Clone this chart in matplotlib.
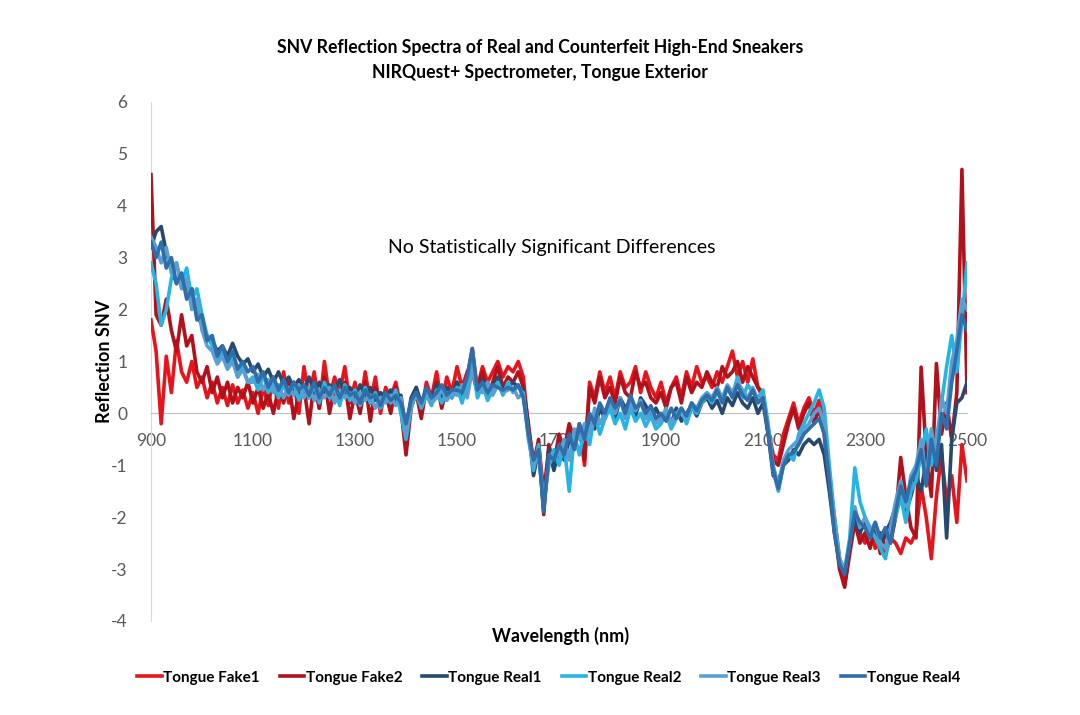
import numpy as np
import matplotlib.pyplot as plt

plt.rcParams["font.family"] = ["Lato", "DejaVu Sans"]
plt.rcParams["axes.unicode_minus"] = False

# wavelength grid, nm (10 nm steps)
wavelength = np.arange(900, 2501, 10)

fake1 = [
    1.8, 1.2, -0.2, 1.1, 0.4, 1.4, 0.8, 0.6, 1.0, 0.5,
    0.7, 0.3, 0.6, 0.2, 0.5, 0.15, 0.55, 0.2, 0.45, 0.1,
    0.4, 0.0, 0.5, 0.15, 0.7, 0.1, 0.8, 0.2, 0.6, 0.0,
    0.9, 0.3, 0.8, 0.1, 1.0, 0.3, 0.7, 0.4, 0.9, 0.2,
    0.6, 0.1, 0.8, 0.2, 0.7, 0.0, 0.5, 0.3, 0.6, 0.1,
    -0.6, 0.2, 0.5, 0.0, 0.6, 0.3, 0.8, 0.2, 0.7, 0.4,
    0.9, 0.5, 0.8, 1.0, 0.5, 0.9, 0.6, 0.8, 1.0, 0.7,
    0.9, 0.8, 1.0, 0.7, -0.3, -0.9, -0.6, -1.5, -0.7, -0.9,
    -0.5, -0.8, -0.3, -0.6, -0.2, -1.0, 0.6, 0.3, 0.8, 0.4,
    0.7, 0.3, 0.8, 0.5, 0.6, 0.9, 0.4, 0.8, 0.5, 0.3,
    0.6, 0.2, 0.5, 0.7, 0.3, 0.8, 0.5, 0.9, 0.6, 0.7,
    0.5, 0.8, 0.6, 0.9, 1.2, 0.7, 1.0, 0.6, 1.05, 0.5,
    0.3, -0.3, -0.8, -0.9, -0.4, -0.1, 0.2, -0.2, 0.1, 0.3,
    0.0, 0.25, -0.2, -1.2, -2.0, -2.8, -3.3, -2.6, -2.0, -2.3,
    -2.5, -2.2, -2.6, -2.3, -2.7, -2.4, -2.5, -2.7, -2.4, -2.5,
    -2.3, -1.4, -2.0, -2.8, -1.6, -0.8, -1.7, -1.2, -2.1, -0.6,
    -1.3,
]

fake2 = [
    4.6, 1.9, 1.7, 2.2, 1.6, 1.2, 1.9, 1.3, 1.5, 0.8,
    0.6, 0.9, 0.4, 0.7, 0.3, 0.6, 0.2, 0.5, 0.3, 0.6,
    0.2, 0.5, 0.1, 0.4, 0.0, 0.5, 0.2, 0.6, -0.1, 0.4,
    0.5, -0.2, 0.6, 0.1, 0.7, 0.0, 0.5, 0.2, 0.6, -0.1,
    0.4, 0.0, 0.6, -0.15, 0.5, 0.2, 0.4, 0.0, 0.5, 0.1,
    -0.8, 0.1, 0.4, -0.1, 0.5, 0.2, 0.6, 0.1, 0.5, 0.3,
    0.6, 0.3, 0.7, 1.25, 0.4, 0.8, 0.3, 0.6, 0.9, 0.5,
    0.7, 0.6, 0.8, 0.5, -0.2, -1.0, -0.5, -1.95, -0.6, -1.0,
    -0.4, -0.7, -0.2, -0.5, -0.3, -0.9, 0.5, 0.2, 0.7, 0.3,
    0.5, 0.2, 0.7, 0.4, 0.3, 0.8, 0.5, 0.6, 0.3, 0.2,
    0.4, 0.1, 0.5, 0.6, 0.2, 0.7, 0.4, 0.6, 0.5, 0.8,
    0.6, 0.5, 0.9, 0.7, 0.8, 1.0, 0.6, 0.9, 0.7, 0.5,
    0.4, -0.4, -0.9, -1.0, -0.6, -0.2, 0.1, -0.3, 0.0, 0.2,
    -0.2, 0.1, -0.4, -1.4, -2.2, -3.0, -3.35, -2.7, -2.1, -2.5,
    -2.3, -2.6, -2.2, -2.7, -2.3, -2.5, -2.0, -0.85, -1.6, -2.2,
    -2.4, 0.89, -0.8, -1.6, 0.96, -0.4, 0.2, -0.5, 0.4, 4.7,
    0.4,
]

real1 = [
    3.2, 3.5, 3.6, 3.1, 2.8, 2.5, 2.7, 2.3, 2.4, 1.9,
    1.7, 1.5, 1.4, 1.2, 1.3, 1.1, 1.35, 1.1, 0.95, 1.05,
    0.8, 0.95, 0.7, 0.85, 0.6, 0.8, 0.55, 0.7, 0.5, 0.65,
    0.45, 0.7, 0.4, 0.6, 0.35, 0.55, 0.45, 0.65, 0.4, 0.5,
    0.3, 0.55, 0.35, 0.5, 0.25, 0.4, 0.3, 0.45, 0.2, 0.35,
    -0.3, 0.3, 0.5, 0.2, 0.45, 0.25, 0.55, 0.3, 0.5, 0.35,
    0.6, 0.3, 0.55, 0.8, 0.4, 0.65, 0.3, 0.5, 0.7, 0.45,
    0.5, 0.6, 0.5, 0.45, -0.3, -1.2, -0.7, -1.85, -0.7, -1.1,
    -0.7, -0.9, -0.5, -0.6, -0.3, -0.5, -0.1, -0.3, 0.1, -0.1,
    0.2, -0.1, 0.3, 0.1, 0.25, -0.05, 0.3, 0.15, -0.1, 0.1,
    -0.1, 0.0, -0.2, 0.1, -0.15, 0.0, 0.15, -0.05, 0.2, 0.3,
    0.1, 0.25, 0.0, 0.3, 0.15, 0.4, 0.2, 0.1, 0.3, 0.0,
    0.2, -0.4, -1.2, -1.3, -1.0, -0.9, -0.7, -0.8, -0.6, -0.5,
    -0.6, -0.5, -0.8, -1.5, -2.3, -2.9, -3.1, -2.5, -2.0, -2.3,
    -2.1, -2.4, -2.2, -2.5, -2.3, -2.1, -1.8, -1.5, -1.9, -1.6,
    -1.2, -1.5, -0.9, -0.4, -1.1, -0.6, -2.4, -0.5, 0.2, 0.3,
    0.6,
]

real2 = [
    2.9, 2.5, 1.7, 2.0, 2.6, 2.9, 2.5, 2.8, 2.2, 2.4,
    1.9, 1.5, 1.3, 1.0, 1.2, 0.9, 1.1, 0.7, 0.9, 0.6,
    0.7, 0.45, 0.75, 0.4, 0.6, 0.3, 0.55, 0.35, 0.6, 0.25,
    0.5, 0.3, 0.55, 0.2, 0.6, 0.3, 0.5, 0.15, 0.55, 0.25,
    0.45, 0.15, 0.5, 0.2, 0.4, 0.1, 0.35, 0.2, 0.45, 0.0,
    -0.5, 0.1, 0.4, 0.1, 0.35, 0.15, 0.45, 0.2, 0.4, 0.3,
    0.5, 0.2, 0.6, 1.0, 0.3, 0.55, 0.25, 0.45, 0.6, 0.35,
    0.6, 0.4, 0.55, 0.35, -0.4, -1.1, -0.6, -1.8, -0.9, -0.7,
    -1.0, -0.6, -1.5, -0.4, -0.8, -0.3, -0.6, 0.0, -0.4, -0.1,
    0.1, -0.2, 0.0, -0.3, 0.1, -0.15, 0.0, -0.25, -0.05, -0.3,
    -0.2, 0.0, -0.3, -0.1, 0.05, -0.2, 0.1, 0.0, 0.2, 0.35,
    0.2, 0.4, 0.25, 0.5, 0.35, 0.7, 0.3, 0.55, 0.4, 0.3,
    0.45, -0.2, -1.1, -1.5, -1.0, -0.8, -0.9, -0.4, -0.2, 0.0,
    0.2, 0.45, 0.1, -1.0, -2.0, -2.8, -3.05, -2.4, -1.05, -1.7,
    -2.0, -2.2, -2.4, -2.6, -2.8, -2.3, -2.0, -1.6, -2.1, -1.5,
    -1.3, -0.8, -0.3, -1.0, -0.5, 0.2, 0.9, 1.5, 0.8, 1.8,
    2.9,
]

real3 = [
    3.4, 3.2, 2.9, 3.2, 2.7, 2.9, 2.4, 2.6, 2.0, 2.2,
    1.6, 1.3, 1.2, 0.95, 1.1, 0.85, 1.0, 0.7, 0.85, 0.6,
    0.6, 0.75, 0.45, 0.65, 0.4, 0.55, 0.3, 0.5, 0.35, 0.55,
    0.3, 0.5, 0.25, 0.45, 0.3, 0.5, 0.2, 0.45, 0.3, 0.4,
    0.2, 0.4, 0.25, 0.35, 0.1, 0.3, 0.2, 0.35, 0.15, 0.3,
    -0.4, 0.2, 0.35, 0.15, 0.4, 0.2, 0.3, 0.45, 0.25, 0.4,
    0.35, 0.55, 0.3, 0.85, 0.5, 0.4, 0.6, 0.35, 0.55, 0.4,
    0.45, 0.5, 0.3, 0.4, -0.5, -1.0, -0.8, -1.75, -1.0, -0.8,
    -0.8, -0.5, -0.9, -0.3, -0.5, -0.2, -0.4, 0.1, -0.2, 0.0,
    0.2, 0.0, 0.3, -0.1, 0.2, 0.05, 0.25, -0.1, 0.1, -0.2,
    -0.1, 0.1, -0.2, 0.0, 0.1, -0.1, 0.2, 0.1, 0.3, 0.4,
    0.3, 0.5, 0.3, 0.55, 0.4, 0.6, 0.45, 0.3, 0.5, 0.25,
    0.35, -0.3, -1.0, -1.4, -0.9, -0.7, -0.6, -0.5, -0.3, -0.2,
    0.0, 0.1, -0.2, -1.2, -2.2, -2.8, -3.0, -2.5, -1.8, -2.2,
    -2.0, -2.3, -2.1, -2.5, -2.6, -2.2, -1.7, -1.3, -1.8, -1.2,
    -1.0, -0.5, -1.3, -0.3, -0.9, 0.3, 0.0, 1.0, 1.4, 2.2,
    2.0,
]

real4 = [
    3.3, 3.0, 3.3, 2.8, 3.0, 2.5, 2.7, 2.2, 2.4, 1.8,
    1.9, 1.4, 1.5, 1.1, 1.3, 1.0, 1.2, 0.85, 1.0, 0.8,
    0.9, 0.6, 0.8, 0.5, 0.7, 0.45, 0.65, 0.4, 0.6, 0.45,
    0.55, 0.35, 0.6, 0.3, 0.5, 0.35, 0.55, 0.3, 0.5, 0.35,
    0.4, 0.2, 0.45, 0.3, 0.35, 0.15, 0.4, 0.25, 0.35, 0.2,
    -0.2, 0.25, 0.4, 0.2, 0.5, 0.3, 0.4, 0.55, 0.35, 0.45,
    0.45, 0.4, 0.7, 1.25, 0.45, 0.6, 0.4, 0.55, 0.5, 0.45,
    0.5, 0.45, 0.55, 0.3, -0.4, -0.9, -0.7, -1.9, -0.8, -0.9,
    -0.6, -0.8, -0.4, -0.7, -0.2, -0.5, 0.0, -0.2, 0.2, 0.0,
    0.3, 0.1, 0.25, 0.0, 0.35, 0.1, 0.2, 0.0, 0.15, -0.1,
    0.0, -0.15, 0.1, -0.1, 0.1, -0.05, 0.2, 0.05, 0.25, 0.35,
    0.25, 0.45, 0.2, 0.5, 0.3, 0.55, 0.35, 0.25, 0.45, 0.2,
    0.3, -0.35, -1.1, -1.45, -1.0, -0.8, -0.75, -0.6, -0.4, -0.3,
    -0.2, -0.1, -0.4, -1.3, -2.3, -2.9, -3.1, -2.5, -1.9, -2.1,
    -2.2, -2.4, -2.1, -2.4, -2.2, -2.5, -1.9, -1.4, -1.7, -1.3,
    -1.1, -0.7, -1.4, -0.5, -1.0, 0.0, -0.3, 0.6, 1.2, 1.9,
    1.6,
]

series_names = ["Tongue Fake1", "Tongue Fake2", "Tongue Real1",
                "Tongue Real2", "Tongue Real3", "Tongue Real4"]
series_data = [fake1, fake2, real1, real2, real3, real4]
colors = ["#e8141c", "#b0111b", "#27496d", "#26b4e2", "#5a9fd4", "#2f6ea8"]

fig = plt.figure(figsize=(10.8, 7.15), dpi=100)
ax = fig.add_axes([0.1398, 0.1315, 0.7556, 0.7259])

for name, vals, c in zip(series_names, series_data, colors):
    ax.plot(wavelength, vals, color=c, lw=2.6, label=name, zorder=3)

ax.set_xlim(900, 2500)
ax.set_ylim(-4, 6)
ax.set_xticks(np.arange(900, 2501, 200))
ax.set_yticks(np.arange(-4, 7, 1))

for s in ["top", "right"]:
    ax.spines[s].set_visible(False)
ax.spines["bottom"].set_position(("data", 0))
ax.spines["bottom"].set_color("#bfbfbf")
ax.spines["left"].set_color("#d9d9d9")
ax.tick_params(axis="both", length=0, labelsize=12.5, labelcolor="#595959")
ax.tick_params(axis="x", pad=14)
ax.tick_params(axis="y", pad=17)

fig.text(0.5, 0.934, "SNV Reflection Spectra of Real and Counterfeit High-End Sneakers",
         ha="center", va="center", fontsize=12.7, fontweight="bold")
fig.text(0.5, 0.899, "NIRQuest+ Spectrometer, Tongue Exterior",
         ha="center", va="center", fontsize=12.7, fontweight="bold")

ax.text(0.491, 0.719, "No Statistically Significant Differences", transform=ax.transAxes,
        ha="center", va="center", fontsize=14)

fig.text(0.097, 0.495, "Reflection SNV", rotation=90, ha="center", va="center",
         fontsize=13, fontweight="bold")
fig.text(0.519, 0.11, "Wavelength (nm)", ha="center", va="center",
         fontsize=13, fontweight="bold")

leg = fig.legend(loc="center", bbox_to_anchor=(0.508, 0.052), ncols=6, frameon=False,
                 fontsize=11, handlelength=1.6, handletextpad=0.1, columnspacing=1.3)
for t in leg.get_texts():
    t.set_fontweight("bold")

fig.savefig("out.png", dpi=100)
